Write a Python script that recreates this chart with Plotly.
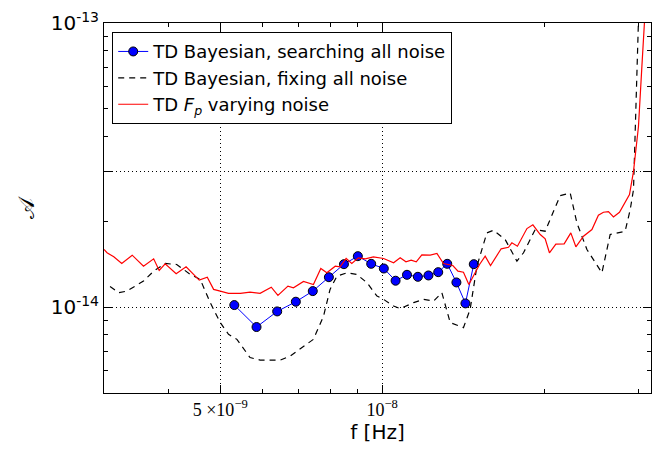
import numpy as np
import plotly.graph_objects as go

# frequencies in nHz, amplitudes in units of 1e-14
f_search = [5.31, 5.84, 6.38, 6.91, 7.43, 7.96, 8.49, 9.01, 9.54, 10.07,
            10.59, 11.12, 11.65, 12.19, 12.71, 13.21, 13.74, 14.28, 14.80]
A_search = [1.019, 0.853, 0.968, 1.047, 1.141, 1.277, 1.419, 1.514, 1.423, 1.370,
            1.241, 1.302, 1.281, 1.295, 1.330, 1.423, 1.224, 1.033, 1.419]

f_fix = [3.12, 3.24, 3.35, 3.60, 3.76, 3.95, 4.15, 4.40, 4.59, 4.79,
         5.00, 5.18, 5.37, 5.68, 5.93, 6.46, 6.75, 7.45, 7.78, 8.00,
         8.24, 8.60, 8.97, 9.37, 9.78, 10.06, 10.50, 10.80, 11.44, 11.93,
         12.46, 12.91, 13.38, 14.16, 14.57, 15.00, 15.65, 16.10, 16.93, 17.80,
         18.31, 19.25, 20.09, 20.82, 21.42, 22.36, 23.01, 24.02, 25.61, 26.53,
         28.29, 28.91, 29.32, 29.53, 29.74, 29.95]
A_fix = [1.185, 1.126, 1.141, 1.237, 1.341, 1.427, 1.415, 1.306, 1.254, 1.039,
         0.884, 0.804, 0.772, 0.666, 0.653, 0.652, 0.675, 0.772, 0.932, 1.157,
         1.288, 1.323, 1.306, 1.221, 1.096, 1.067, 1.011, 0.990, 1.039, 1.067,
         1.052, 1.126, 0.884, 0.849, 0.984, 1.396, 1.828, 1.867, 1.732, 1.454,
         1.556, 1.878, 1.853, 2.177, 2.472, 2.526, 1.982, 1.598, 1.323, 1.804,
         1.853, 2.207, 2.594, 4.112, 7.025, 10.2]

f_fp = [3.04, 3.08, 3.17, 3.28, 3.43, 3.60, 3.76, 3.85, 3.95, 4.14,
        4.32, 4.57, 4.73, 4.86, 5.00, 5.18, 5.45, 5.68, 5.93, 6.22,
        6.40, 6.68, 6.84, 7.14, 7.45, 7.69, 7.89, 8.18, 8.35, 8.57,
        8.78, 9.03, 9.30, 9.63, 10.06, 10.50, 10.80, 11.07, 11.32, 11.57,
        11.85, 12.28, 12.64, 13.00, 13.53, 13.83, 14.16, 14.49, 15.17, 15.54,
        15.90, 16.64, 17.17, 17.42, 17.84, 18.58, 19.06, 19.67, 20.09, 20.46,
        21.03, 21.79, 22.42, 22.91, 23.67, 24.54, 25.23, 25.78, 26.34, 26.91,
        27.61, 28.82, 29.32, 29.95, 30.39, 30.75]
A_fp = [1.598, 1.556, 1.506, 1.427, 1.526, 1.396, 1.482, 1.349, 1.423, 1.313,
        1.389, 1.247, 1.277, 1.157, 1.141, 1.120, 1.120, 1.132, 1.120, 1.178,
        1.102, 1.188, 1.172, 1.234, 1.204, 1.370, 1.323, 1.396, 1.389, 1.486,
        1.427, 1.494, 1.482, 1.506, 1.486, 1.435, 1.494, 1.446, 1.466, 1.446,
        1.531, 1.526, 1.547, 1.427, 1.404, 1.341, 1.330, 1.204, 1.415, 1.514,
        1.404, 1.607, 1.627, 1.687, 1.641, 1.893, 1.951, 1.804, 1.742, 1.556,
        1.668, 1.673, 1.828, 1.633, 1.779, 1.878, 2.108, 2.160, 2.172, 2.081,
        2.160, 2.492, 3.008, 4.326, 7.025, 10.3]

x_tickvals = [5e-9, 1e-8]
x_ticktext = ["5 \u00d710<sup>\u22129</sup>", "10<sup>\u22128</sup>"]
x_minor = [3e-9, 4e-9, 6e-9, 7e-9, 8e-9, 9e-9, 2e-8, 3e-8]
y_tickvals = [1e-14, 3e-14, 1e-13]
y_ticktext = ["10<sup>-14</sup>", "", "10<sup>-13</sup>"]
y_minor = [6e-15, 7e-15, 8e-15, 9e-15, 2e-14, 4e-14, 5e-14, 6e-14, 7e-14, 8e-14, 9e-14]

NHZ = 1e-9
UNIT = 1e-14

fig = go.Figure()
fig.add_trace(go.Scatter(
    x=np.array(f_search) * NHZ, y=np.array(A_search) * UNIT,
    mode="lines+markers", name="TD Bayesian, searching all noise",
    line=dict(color="#0000ff", width=1),
    marker=dict(color="#0000ff", size=9, line=dict(color="black", width=1)),
))
fig.add_trace(go.Scatter(
    x=np.array(f_fix) * NHZ, y=np.array(A_fix) * UNIT,
    mode="lines", name="TD Bayesian, fixing all noise",
    line=dict(color="black", width=1.2, dash="6px,5px"),
))
fig.add_trace(go.Scatter(
    x=np.array(f_fp) * NHZ, y=np.array(A_fp) * UNIT,
    mode="lines", name="TD <i>F</i><sub><i>p</i></sub> varying noise",
    line=dict(color="#ff0000", width=1.2),
))

fig.update_layout(
    width=660, height=449,
    margin=dict(l=104, r=9, t=23, b=56, autoexpand=False),
    paper_bgcolor="white", plot_bgcolor="white",
    font=dict(family="DejaVu Sans", color="black"),
    showlegend=True,
    legend=dict(
        x=0.015, y=0.975, xanchor="left", yanchor="top",
        bordercolor="black", borderwidth=1, bgcolor="white",
        font=dict(size=18, family="DejaVu Sans"),
        tracegroupgap=0, itemwidth=30,
    ),
)
fig.update_xaxes(
    type="log", range=[np.log10(3.04e-9), np.log10(3.16e-8)],
    automargin=False,
    tickmode="array", tickvals=x_tickvals, ticktext=x_ticktext,
    tickfont=dict(family="Liberation Serif", size=18),
    ticks="inside", ticklen=8, tickcolor="black", tickwidth=1,
    showline=True, linecolor="black", linewidth=1, mirror="allticks",
    showgrid=True, gridcolor="black", griddash="1px,3px", gridwidth=1,
    zeroline=False,
    minor=dict(tickmode="array", tickvals=x_minor, ticks="inside", ticklen=4,
               tickcolor="black", showgrid=False),
    title=dict(text="f [Hz]", font=dict(size=20, family="DejaVu Sans"), standoff=6),
)
fig.update_yaxes(
    type="log", range=[np.log10(5.0e-15), -13],
    automargin=False,
    tickmode="array", tickvals=y_tickvals, ticktext=y_ticktext,
    tickfont=dict(family="DejaVu Sans", size=20),
    ticks="inside", ticklen=8, tickcolor="black", tickwidth=1,
    showline=True, linecolor="black", linewidth=1, mirror="allticks",
    showgrid=True, gridcolor="black", griddash="1px,3px", gridwidth=1,
    zeroline=False,
    minor=dict(tickmode="array", tickvals=y_minor, ticks="inside", ticklen=4,
               tickcolor="black", showgrid=False),
    title=dict(text="\U0001D49C", font=dict(size=22, family="DejaVu Serif"), standoff=9),
)

fig.write_html("out.html", config={"displayModeBar": False},
               post_script="document.body.style.margin='0';document.body.style.overflow='hidden';")
